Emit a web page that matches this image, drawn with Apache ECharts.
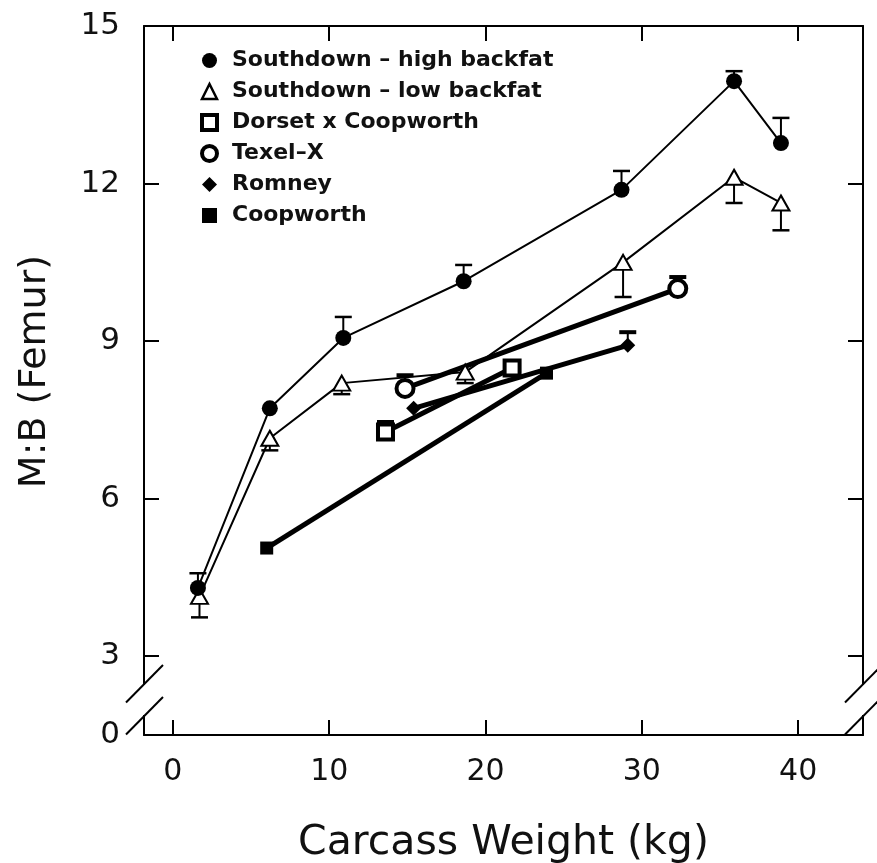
<!DOCTYPE html>
<html>
<head>
<meta charset="utf-8">
<script src="https://cdn.jsdelivr.net/npm/echarts@6/dist/echarts.min.js"></script>
<style>
html,body{margin:0;padding:0;background:#fff;}
#chart{width:877px;height:863px;}
</style>
</head>
<body>
<div id="chart"></div>
<script>
// ---- data ----
const seriesNames = ['Southdown – high backfat', 'Southdown – low backfat', 'Dorset x Coopworth', 'Texel–X', 'Romney', 'Coopworth'];

const highX = [1.6, 6.2, 10.9, 18.6, 28.7, 35.9, 38.9];
const highY = [4.30, 7.72, 9.06, 10.14, 11.88, 13.95, 12.77];
const highErr = [4.58, null, 9.46, 10.45, 12.24, 14.14, 13.25];

const lowX = [1.7, 6.2, 10.8, 18.7, 28.8, 35.9, 38.9];
const lowY = [4.14, 7.15, 8.20, 8.41, 10.50, 12.12, 11.63];
const lowErr = [3.74, 6.92, 7.99, 8.20, 9.84, 11.63, 11.11];

const dorsetX = [13.6, 21.7];
const dorsetY = [7.27, 8.49];
const dorsetErr = [7.46, null];

const texelX = [14.85, 32.3];
const texelY = [8.10, 10.00];
const texelErr = [8.35, 10.22];

const romneyX = [15.4, 29.1];
const romneyY = [7.72, 8.92];
const romneyErr = [null, 9.17];

const coopX = [6.0, 23.9];
const coopY = [5.06, 8.39];

const xTicks = [0, 10, 20, 30, 40];
const yTicks = [3, 6, 9, 12, 15];
const yZero = 1.5;             // position standing in for "0" below the axis break
const yLabels = [yZero, 3, 6, 9, 12, 15];

// ---- helpers ----
function pts(xs, ys) { return xs.map((x, i) => [x, ys[i]]); }
function errPts(xs, ys, es) {
  const out = [];
  xs.forEach((x, i) => { if (es[i] != null) out.push([x, ys[i], es[i]]); });
  return out;
}
function errSeries(data, width) {
  return {
    type: 'custom',
    data: data,
    silent: true,
    z: 2,
    renderItem: function (params, api) {
      const p0 = api.coord([api.value(0), api.value(1)]);
      const p1 = api.coord([api.value(0), api.value(2)]);
      const hw = 8.5;
      return {
        type: 'group',
        children: [
          { type: 'line', shape: { x1: p0[0], y1: p0[1], x2: p1[0], y2: p1[1] }, style: { stroke: '#000', lineWidth: 2 } },
          { type: 'line', shape: { x1: p1[0] - hw, y1: p1[1], x2: p1[0] + hw, y2: p1[1] }, style: { stroke: '#000', lineWidth: width } }
        ]
      };
    }
  };
}

const FONT = 'DejaVu Sans';
const chart = echarts.init(document.getElementById('chart'), null, { renderer: 'canvas' });

const axisLine = { show: true, onZero: false, lineStyle: { color: '#000', width: 2 } };
const tickIn = { show: true, inside: true, length: 15, lineStyle: { color: '#000', width: 2 } };

const option = {
  backgroundColor: '#fff',
  animation: false,
  grid: { left: 144, right: 14, top: 26, bottom: 128, containLabel: false, outerBoundsMode: 'none' },
  legend: {
    orient: 'vertical',
    left: 195,
    top: 40,
    itemWidth: 15,
    itemHeight: 15,
    itemGap: 0,
    textStyle: { fontFamily: FONT, fontSize: 22, fontWeight: 'bold', color: '#111', lineHeight: 31, padding: [0, 0, 0, 10] },
    data: [
      { name: seriesNames[0], icon: 'circle', itemStyle: { color: '#000', borderWidth: 0 } },
      { name: seriesNames[1], icon: 'triangle', itemStyle: { color: '#fff', borderColor: '#000', borderWidth: 2.5 } },
      { name: seriesNames[2], icon: 'rect', itemStyle: { color: '#fff', borderColor: '#000', borderWidth: 4 } },
      { name: seriesNames[3], icon: 'circle', itemStyle: { color: '#fff', borderColor: '#000', borderWidth: 4 } },
      { name: seriesNames[4], icon: 'diamond', itemStyle: { color: '#000', borderWidth: 0 } },
      { name: seriesNames[5], icon: 'rect', itemStyle: { color: '#000', borderWidth: 0 } }
    ]
  },
  xAxis: [
    {
      type: 'value', position: 'bottom', min: -1.85, max: 44.15,
      axisLine: axisLine,
      axisTick: Object.assign({ customValues: xTicks }, tickIn),
      axisLabel: { customValues: xTicks, margin: 22, fontFamily: FONT, fontSize: 30, color: '#111' },
      splitLine: { show: false },
      name: 'Carcass Weight (kg)', nameLocation: 'middle', nameGap: 88,
      nameTextStyle: { fontFamily: FONT, fontSize: 41, color: '#111' }
    },
    {
      type: 'value', position: 'top', min: -1.85, max: 44.15,
      axisLine: axisLine,
      axisTick: Object.assign({ customValues: xTicks }, tickIn),
      axisLabel: { show: false },
      splitLine: { show: false }
    }
  ],
  yAxis: [
    {
      type: 'value', position: 'left', min: yZero, max: 15,
      axisLine: axisLine,
      axisTick: Object.assign({ customValues: yTicks }, tickIn),
      axisLabel: {
        customValues: yLabels, margin: 24, fontFamily: FONT, fontSize: 31, color: '#111',
        formatter: function (v) { return v === yZero ? '0' : String(v); }
      },
      splitLine: { show: false },
      name: 'M:B (Femur)', nameLocation: 'middle', nameGap: 90,
      nameTextStyle: { fontFamily: FONT, fontSize: 38, color: '#111', padding: [0, 0, 0, 18] }
    },
    {
      type: 'value', position: 'right', min: yZero, max: 15,
      axisLine: axisLine,
      axisTick: Object.assign({ customValues: yTicks }, tickIn),
      axisLabel: { show: false },
      splitLine: { show: false }
    }
  ],
  series: [
    errSeries(errPts(highX, highY, highErr), 2.5),
    errSeries(errPts(lowX, lowY, lowErr), 2.5),
    errSeries(errPts(dorsetX, dorsetY, dorsetErr), 4),
    errSeries(errPts(texelX, texelY, texelErr), 4),
    errSeries(errPts(romneyX, romneyY, romneyErr), 4),
    {
      name: seriesNames[5], type: 'line', data: pts(coopX, coopY),
      symbol: 'rect', symbolSize: 13, z: 3,
      lineStyle: { color: '#000', width: 5 }, itemStyle: { color: '#000' }
    },
    {
      name: seriesNames[4], type: 'line', data: pts(romneyX, romneyY),
      symbol: 'diamond', symbolSize: 15, z: 3,
      lineStyle: { color: '#000', width: 5 }, itemStyle: { color: '#000' }
    },
    {
      name: seriesNames[2], type: 'line', data: pts(dorsetX, dorsetY),
      symbol: 'rect', symbolSize: 15, z: 3,
      lineStyle: { color: '#000', width: 5 }, itemStyle: { color: '#fff', borderColor: '#000', borderWidth: 4 }
    },
    {
      name: seriesNames[3], type: 'line', data: pts(texelX, texelY),
      symbol: 'circle', symbolSize: 17, z: 3,
      lineStyle: { color: '#000', width: 5 }, itemStyle: { color: '#fff', borderColor: '#000', borderWidth: 4 }
    },
    {
      name: seriesNames[1], type: 'line', data: pts(lowX, lowY),
      symbol: 'triangle', symbolSize: [17, 15], z: 4,
      lineStyle: { color: '#000', width: 2 }, itemStyle: { color: '#fff', borderColor: '#000', borderWidth: 2 }
    },
    {
      name: seriesNames[0], type: 'line', data: pts(highX, highY),
      symbol: 'circle', symbolSize: 16, z: 4,
      lineStyle: { color: '#000', width: 2 }, itemStyle: { color: '#000' }
    }
  ]
};

chart.setOption(option);

// ---- axis-break marks, positioned from the axes ----
const leftX = chart.convertToPixel({ xAxisIndex: 0 }, -1.85);
const rightX = chart.convertToPixel({ xAxisIndex: 0 }, 44.15);
const baseY = chart.convertToPixel({ yAxisIndex: 0 }, yZero);
const b1 = baseY - 51, b2 = baseY - 19;
const g = [];
[leftX, rightX].forEach(function (ax) {
  g.push({ type: 'rect', shape: { x: ax - 5, y: b1 + 1, width: 10, height: b2 - b1 - 2 }, style: { fill: '#fff' }, z: 100 });
  [b1, b2].forEach(function (by) {
    g.push({ type: 'line', shape: { x1: ax - 18, y1: by + 18.5, x2: ax + 19, y2: by - 19 }, style: { stroke: '#000', lineWidth: 2 }, z: 101 });
  });
});
chart.setOption({ graphic: g });
</script>
</body>
</html>
